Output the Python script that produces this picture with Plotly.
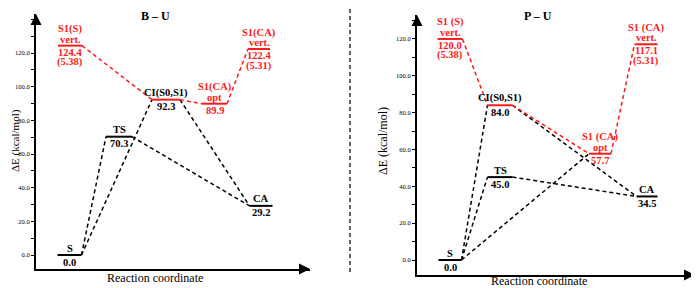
import plotly.graph_objects as go

# ---------------- data ----------------
Y_TICKS = [0, 20, 40, 60, 80, 100, 120]

# B - U panel
BU_STATES = ["S", "TS", "CI(S0,S1)", "S1(S)", "S1(CA)", "S1(CA)", "CA"]
BU_TAGS = ["", "", "", "vert.", "opt", "vert.", ""]
BU_ENERGY = [0.0, 70.3, 92.3, 124.4, 89.9, 122.4, 29.2]
BU_EV = ["", "", "", "(5.38)", "", "(5.31)", ""]
BU_BLACK_LINKS = [(0, 1), (0, 2), (1, 6), (2, 6)]
BU_RED_LINKS = [(3, 2), (2, 4), (4, 5)]

# P - U panel
PU_STATES = ["S", "TS", "CI(S0,S1)", "S1 (S)", "S1 (CA)", "S1 (CA)", "CA"]
PU_TAGS = ["", "", "", "vert.", "opt", "vert.", ""]
PU_ENERGY = [0.0, 45.0, 84.0, 120.0, 57.7, 117.1, 34.5]
PU_EV = ["", "", "", "(5.38)", "", "(5.31)", ""]
PU_BLACK_LINKS = [(0, 1), (0, 2), (0, 4), (1, 6), (2, 6)]
PU_RED_LINKS = [(3, 2), (2, 4), (4, 5)]

# ---------------- layout / style ----------------
BU_X = [33.5, 83, 130, 34, 178.5, 223, 225]
BU_HALF = [12, 13, 14, 12, 12.5, 11, 11.5]
PU_X = [33, 83, 83, 33, 183, 229, 230]
PU_HALF = [11.5, 12.5, 12.5, 12.5, 11, 11.5, 10.5]
LINE_COL = ["black", "black", "red", "red", "red", "red", "black"]
TEXT_COL = ["black", "black", "black", "red", "red", "red", "black"]
RED = "#ff1a1a"
FONT = "Liberation Serif, serif"
OFF = 8  # browser body margin
W, H = 699 - OFF, 288 - OFF


def px_x(p):
    return (p - OFF) / W


def px_y(p):
    return 1 - (p - OFF) / H


fig = go.Figure()
annotations = []


def panel(xa, ya, states, tags, energy, ev, black_links, red_links, xs, half):
    # connectors
    for links, col in ((black_links, "black"), (red_links, RED)):
        for a, b in links:
            fig.add_trace(go.Scatter(
                x=[xs[a] + half[a], xs[b] - half[b]], y=[energy[a], energy[b]],
                mode="lines", xaxis=xa, yaxis=ya, hoverinfo="skip",
                line=dict(color=col, width=1.5, dash="4px,3px"), showlegend=False))
    # levels
    for i in range(len(states)):
        lc = RED if LINE_COL[i] == "red" else "black"
        tc = RED if TEXT_COL[i] == "red" else "black"
        fig.add_trace(go.Scatter(
            x=[xs[i] - half[i], xs[i] + half[i]], y=[energy[i], energy[i]],
            mode="lines", xaxis=xa, yaxis=ya, hoverinfo="skip",
            line=dict(color=lc, width=2), showlegend=False))
        items = []
        if tags[i]:
            items += [(states[i], 16.5), (tags[i], 6.5), (f"{energy[i]:.1f}", -6.5)]
        else:
            items += [(states[i], 7), (f"{energy[i]:.1f}", -7)]
        if ev[i]:
            items.append((ev[i], -16.5))
        for txt, sh in items:
            annotations.append(dict(
                x=xs[i], y=energy[i], xref=xa, yref=ya, yshift=sh,
                text=f"<b>{txt}</b>", showarrow=False,
                font=dict(family=FONT, size=10.5, color=tc),
                xanchor="center", yanchor="middle"))


panel("x", "y", BU_STATES, BU_TAGS, BU_ENERGY, BU_EV, BU_BLACK_LINKS, BU_RED_LINKS, BU_X, BU_HALF)
panel("x2", "y2", PU_STATES, PU_TAGS, PU_ENERGY, PU_EV, PU_BLACK_LINKS, PU_RED_LINKS, PU_X, PU_HALF)

yax_common = dict(
    tickvals=Y_TICKS, tickformat=".1f", ticks="outside", ticklen=3, tickwidth=1,
    tickcolor="black", showline=True, linewidth=2, linecolor="black",
    showgrid=False, zeroline=False,
    tickfont=dict(family=FONT, size=6.5, color="black"),
    minor=dict(ticks="outside", ticklen=3, tickwidth=1, tickcolor="black", dtick=10, tick0=0),
)
xax_common = dict(showline=True, linewidth=2, linecolor="black", showgrid=False,
                  zeroline=False, showticklabels=False, ticks="")

fig.update_layout(
    width=W, height=H, margin=dict(l=0, r=0, t=0, b=0),
    paper_bgcolor="white", plot_bgcolor="white",
    xaxis=dict(domain=[px_x(36), px_x(310)], range=[0, 274], anchor="y", **xax_common),
    yaxis=dict(domain=[px_y(269), px_y(14)], range=[-8.32, 143.2], anchor="x", **yax_common),
    xaxis2=dict(domain=[px_x(417), px_x(695)], range=[0, 278], anchor="y2", **xax_common),
    yaxis2=dict(domain=[px_y(275), px_y(15)], range=[-8.14, 133.0], anchor="x2", **yax_common),
)

# axis arrowheads
for xa, ya in (("x", "y"), ("x2", "y2")):
    annotations.append(dict(x=0, y=1, xref=f"{xa} domain", yref=f"{ya} domain", ax=0, ay=12,
                            text="", showarrow=True, arrowhead=2, arrowsize=1.1,
                            arrowwidth=2, arrowcolor="black", standoff=0))
    annotations.append(dict(x=1, y=0, xref=f"{xa} domain", yref=f"{ya} domain", ax=-12, ay=0,
                            text="", showarrow=True, arrowhead=2, arrowsize=1.1,
                            arrowwidth=2, arrowcolor="black", standoff=0))

# titles and axis labels
for txt, px, py in (("B – U", 155, 16), ("P – U", 538, 16)):
    annotations.append(dict(x=px_x(px), y=px_y(py), xref="paper", yref="paper",
                            xanchor="center", yanchor="middle",
                            text=f"<b>{txt}</b>", showarrow=False,
                            font=dict(family=FONT, size=12, color="black")))
for px, py in ((155, 278), (539, 281)):
    annotations.append(dict(x=px_x(px), y=px_y(py), xref="paper", yref="paper",
                            xanchor="center", yanchor="middle",
                            text="Reaction coordinate", showarrow=False,
                            font=dict(family=FONT, size=12, color="black")))
for px, fs in ((15, 11), (383, 12)):
    annotations.append(dict(x=px_x(px), y=px_y(141), xref="paper", yref="paper",
                            xanchor="center", yanchor="middle",
                            text="ΔE (kcal/mol)", showarrow=False, textangle=-90,
                            font=dict(family=FONT, size=fs, color="black")))

fig.update_layout(annotations=annotations)
fig.add_shape(type="line", xref="paper", yref="paper", x0=px_x(350), x1=px_x(350),
              y0=px_y(272), y1=1, line=dict(color="#333333", width=1.5, dash="4px,3px"))

fig.write_html("out.html")
